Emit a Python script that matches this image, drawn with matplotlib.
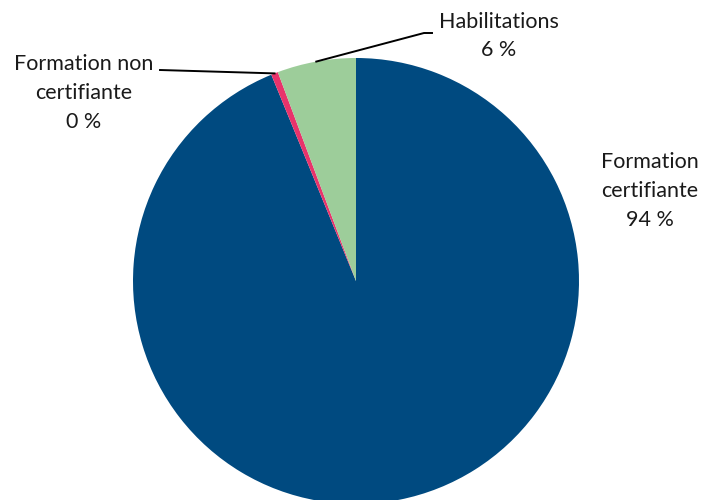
import numpy as np
import matplotlib.pyplot as plt

categories = ["Formation\ncertifiante", "Formation non\ncertifiante", "Habilitations"]
values = [93.8, 0.5, 5.7]
colors = ["#004A80", "#E8336B", "#9DCD9A"]

plt.rcParams['font.family'] = ['Lato', 'DejaVu Sans']

fig = plt.figure(figsize=(7.02, 5), dpi=100)
ax = fig.add_axes([0, 0, 1, 1])

cx, cy, r = 356, 219, 223
wedges, _ = ax.pie(values, colors=colors, startangle=90, counterclock=False,
                   center=(cx, cy), radius=r, frame=True,
                   wedgeprops=dict(linewidth=0))
ax.set_xlim(0, 702)
ax.set_ylim(0, 500)
ax.axis('off')

total = sum(values)
pct = [f"{round(v / total * 100):.0f} %" for v in values]

# label positions (text centres) and leader elbows
text_pos = [(650, 309), (84, 407), (499, 464)]
elbows = [None, (160, 430), (432, 467)]

for i, w in enumerate(wedges):
    ax.text(text_pos[i][0], text_pos[i][1], f"{categories[i]}\n{pct[i]}",
            ha='center', va='center', fontsize=15.5, linespacing=1.55,
            color='#1a1a1a')
    if elbows[i] is not None:
        ang = np.deg2rad((w.theta1 + w.theta2) / 2)
        px = cx + r * np.cos(ang)
        py = cy + r * np.sin(ang)
        ex, ey = elbows[i]
        if i == 1:
            ax.plot([px, ex], [py, ey], color='black', lw=1.4)
        else:
            ax.plot([px, ex - 8, ex], [py, ey, ey], color='black', lw=1.4)

fig.savefig("out.png", dpi=100)
